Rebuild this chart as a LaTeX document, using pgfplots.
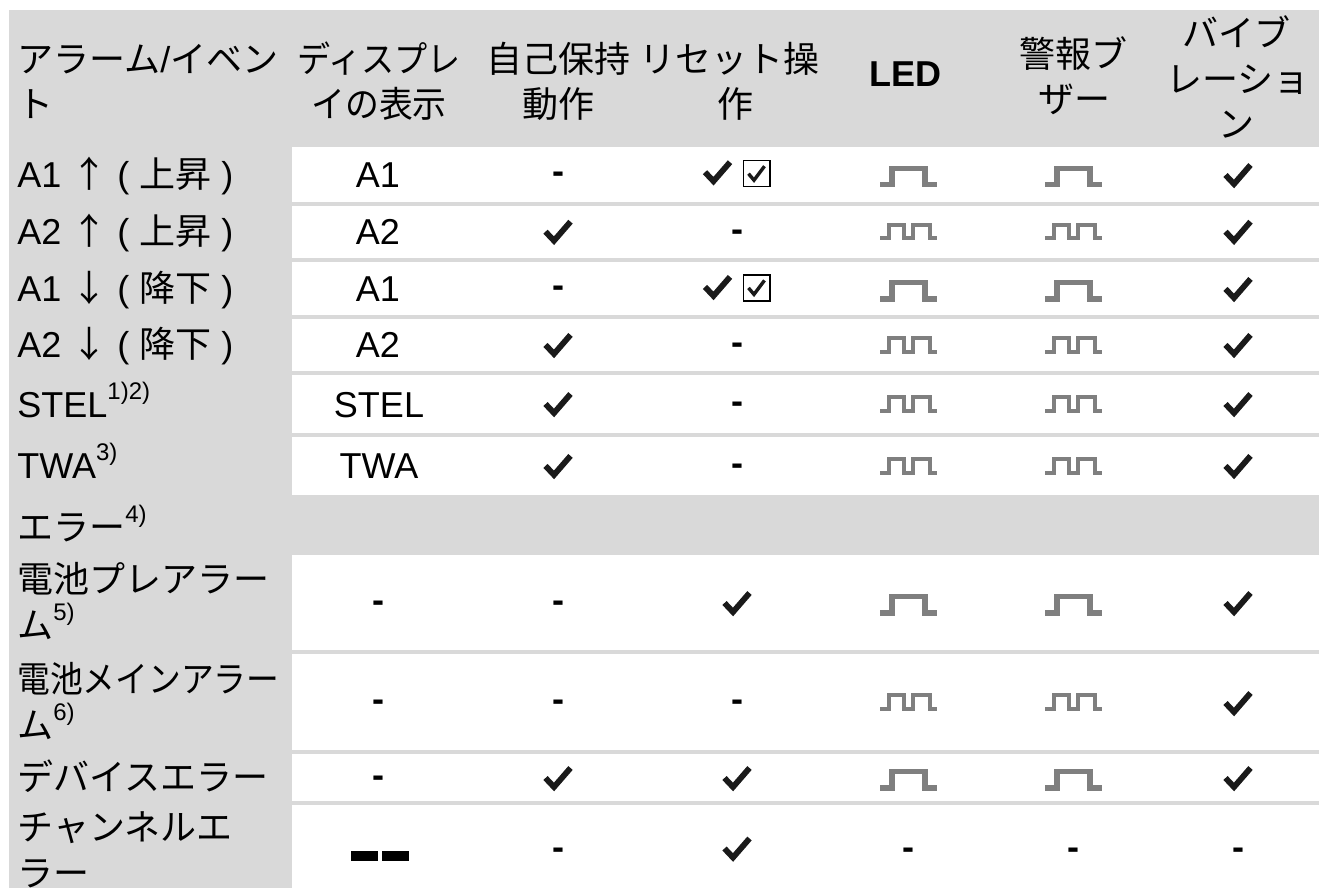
\documentclass[border=0pt]{standalone}
\usepackage{graphicx}
\usepackage{pgfplots}
\pgfplotsset{compat=1.18}
\usepackage{fontspec}
\setmainfont{Liberation Sans}
\newfontfamily\jp{Noto Sans CJK JP}
\definecolor{bggray}{HTML}{D9D9D9}
\definecolor{pgray}{HTML}{7F7F7F}
\definecolor{ink}{HTML}{1A1A1A}
\newcommand{\sups}[1]{\raisebox{9pt}{\fontsize{12}{12}\selectfont #1}}
% centred text, baseline at y
\newcommand{\txt}[3]{\node[anchor=base, inner sep=0pt] at (axis cs:#1,#2) {#3};}
% left text, baseline at y
\newcommand{\ltxt}[2]{\node[anchor=base west, inner sep=0pt] at (axis cs:17,#1) {#2};}
% dash centred on cell centre
\newcommand{\dsh}[2]{\node[anchor=base, inner sep=0pt] at (axis cs:#1,{#2+9.5}) {\bfseries -};}
% check mark
\newcommand{\chk}[2]{\draw[ink, line width=2.9pt, line cap=butt, line join=miter] (axis cs:{#1-12.5},{#2-0.5}) -- (axis cs:{#1-4},{#2+8.5}) -- (axis cs:{#1+12.5},{#2-10.5});}
% checked box
\newcommand{\cbx}[2]{\draw[black, line width=0.8pt] (axis cs:{#1-13.2},{#2-13.5}) rectangle (axis cs:{#1+13.2},{#2+12.5});
  \draw[ink, line width=1.7pt, line join=miter] (axis cs:{#1-8},{#2-0.5}) -- (axis cs:{#1-2.5},{#2+6}) -- (axis cs:{#1+8},{#2-8});}
% single pulse
\newcommand{\pone}[2]{\draw[pgray, line width=2.6pt, line cap=butt, line join=miter] (axis cs:{#1-28.5},{#2+10.5}) -- (axis cs:{#1-16.5},{#2+10.5}) -- (axis cs:{#1-16.5},{#2-6}) -- (axis cs:{#1+16.5},{#2-6}) -- (axis cs:{#1+16.5},{#2+10.5}) -- (axis cs:{#1+28.5},{#2+10.5});}
% double pulse
\newcommand{\ptwo}[2]{\draw[pgray, line width=2pt, line cap=butt, line join=miter] (axis cs:{#1-28.5},{#2+6.7}) -- (axis cs:{#1-20},{#2+6.7}) -- (axis cs:{#1-20},{#2-6.7}) -- (axis cs:{#1-5},{#2-6.7}) -- (axis cs:{#1-5},{#2+6.7}) -- (axis cs:{#1+4},{#2+6.7}) -- (axis cs:{#1+4},{#2-6.7}) -- (axis cs:{#1+21},{#2-6.7}) -- (axis cs:{#1+21},{#2+6.7}) -- (axis cs:{#1+28.5},{#2+6.7});}
\begin{document}
\begin{tikzpicture}[every node/.style={font=\fontsize{18}{23}\selectfont}]
\begin{axis}[width=659.5pt, height=444pt, scale only axis,
  xmin=0, xmax=1319, ymin=0, ymax=888, y dir=reverse,
  hide axis, clip=false]
% backgrounds
\fill[white] (axis cs:0,0) rectangle (axis cs:1319,888);
\fill[bggray] (axis cs:9,10) rectangle (axis cs:1319,888);
\fill[white] (axis cs:292,146.7) rectangle (axis cs:1319,201.7);
\fill[white] (axis cs:292,205.7) rectangle (axis cs:1319,257.7);
\fill[white] (axis cs:292,262) rectangle (axis cs:1319,314.7);
\fill[white] (axis cs:292,319) rectangle (axis cs:1319,370.7);
\fill[white] (axis cs:292,375) rectangle (axis cs:1319,433);
\fill[white] (axis cs:292,437) rectangle (axis cs:1319,494.7);
\fill[white] (axis cs:292,555) rectangle (axis cs:1319,650);
\fill[white] (axis cs:292,654) rectangle (axis cs:1319,750);
\fill[white] (axis cs:292,754) rectangle (axis cs:1319,801);
\fill[white] (axis cs:292,805) rectangle (axis cs:1319,888);
% header
\ltxt{73}{{\jp アラーム}/{\jp イベン}}
\ltxt{118}{{\jp ト}}
\txt{379}{73}{\scalebox{0.92}[1]{\jp ディスプレ}}
\txt{379}{118}{\scalebox{0.94}[1]{\jp イの表示}}
\txt{558}{73}{{\jp 自己保持}}
\txt{558}{118}{{\jp 動作}}
\txt{729}{73}{{\jp リセット操}}
\txt{735}{118}{{\jp 作}}
\txt{905}{87}{\bfseries LED}
\txt{1073}{68}{{\jp 警報ブ}}
\txt{1074}{113}{{\jp ザー}}
\txt{1236}{47}{{\jp バイブ}}
\txt{1238}{92.5}{{\jp レーショ}}
\txt{1236}{138}{{\jp ン}}
% row 1
\ltxt{187.2}{A1 {\jp ↑} ( {\jp 上昇} )}
\txt{378}{187.2}{A1}
\dsh{558}{174.2}
\chk{717.5}{172.7}
\cbx{756.5}{174.2}
\pone{908.5}{174.2}
\pone{1073.5}{174.2}
\chk{1238}{175.5}
% row 2
\ltxt{244.7}{A2 {\jp ↑} ( {\jp 上昇} )}
\txt{378}{244.7}{A2}
\chk{558}{232.2}
\dsh{737}{231.7}
\ptwo{908.5}{231.7}
\ptwo{1073.5}{231.7}
\chk{1238}{232.2}
% row 3
\ltxt{301.4}{A1 {\jp ↓} ( {\jp 降下} )}
\txt{378}{301.4}{A1}
\dsh{558}{288.4}
\chk{717.5}{287.4}
\cbx{756.5}{288.4}
\pone{908.5}{288.4}
\pone{1073.5}{288.4}
\chk{1238}{289.4}
% row 4
\ltxt{357.9}{A2 {\jp ↓} ( {\jp 降下} )}
\txt{378}{357.9}{A2}
\chk{558}{345.4}
\dsh{737}{344.9}
\ptwo{908.5}{344.9}
\ptwo{1073.5}{344.9}
\chk{1238}{345.4}
% row 5
\ltxt{417}{STEL\sups{1)2)}}
\txt{379}{417}{STEL}
\chk{558}{404.5}
\dsh{737}{404}
\ptwo{908.5}{404}
\ptwo{1073.5}{404}
\chk{1238}{404.5}
% row 6
\ltxt{478.9}{TWA\sups{3)}}
\txt{379}{478.9}{TWA}
\chk{558}{466.4}
\dsh{737}{465.9}
\ptwo{908.5}{465.9}
\ptwo{1073.5}{465.9}
\chk{1238}{466.4}
% row 7
\ltxt{540}{{\jp エラー}\sups{4)}}
% row 8
\ltxt{592.5}{{\jp 電池プレアラー}}
\ltxt{638.5}{{\jp ム}\sups{5)}}
\dsh{378}{602.5}
\dsh{558}{602.5}
\chk{737}{603.5}
\pone{908.5}{602.5}
\pone{1073.5}{602.5}
\chk{1238}{603.5}
% row 9
\ltxt{692}{\scalebox{0.91}[1]{\jp 電池メインアラー}}
\ltxt{738}{{\jp ム}\sups{6)}}
\dsh{378}{702}
\dsh{558}{702}
\dsh{737}{702}
\ptwo{908.5}{702}
\ptwo{1073.5}{702}
\chk{1238}{703.5}
% row 10
\ltxt{790.5}{{\jp デバイスエラー}}
\dsh{378}{777.5}
\chk{558}{778.5}
\chk{737}{778.5}
\pone{908.5}{777.5}
\pone{1073.5}{777.5}
\chk{1238}{778.5}
% row 11
\ltxt{840}{{\jp チャンネルエ}}
\ltxt{886}{{\jp ラー}}
\fill[black] (axis cs:351,851) rectangle (axis cs:377.7,860.7);
\fill[black] (axis cs:382.3,851) rectangle (axis cs:409,860.7);
\dsh{558}{850}
\chk{737}{849}
\dsh{908.5}{850}
\dsh{1073.5}{850}
\dsh{1238}{850}
\end{axis}
\end{tikzpicture}
\end{document}
